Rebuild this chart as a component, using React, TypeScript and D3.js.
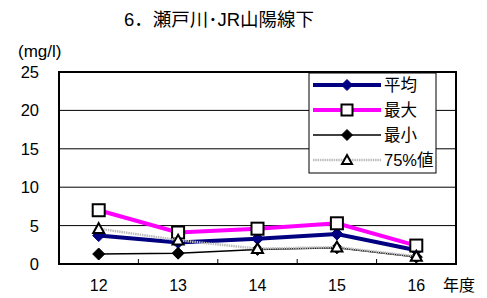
import React from 'react';
import * as d3 from 'd3';

const years = ['12', '13', '14', '15', '16'];
const avgValues = [3.7, 2.8, 3.3, 3.9, 1.8];
const maxValues = [7.0, 4.1, 4.6, 5.3, 2.4];
const minValues = [1.3, 1.4, 1.9, 2.1, 0.9];
const p75Values = [4.6, 3.1, 2.0, 2.2, 1.0];
const yTicks = [0, 5, 10, 15, 20, 25];
const legendLabels = ['平均', '最大', '最小', '75%値'];

const W = 487;
const H = 298;
const plot = { left: 59, right: 456, top: 72, bottom: 264 };
const font = 'Arial, "Liberation Sans", "Noto Sans CJK JP", sans-serif';

type Marker = 'diamond' | 'square' | 'triangle';

interface Series {
  name: string;
  values: number[];
  stroke: string;
  width: number;
  dash?: string;
  marker: Marker;
  markerFill: string;
  markerStroke: string;
  markerSize: number;
}

const series: Series[] = [
  { name: legendLabels[0], values: avgValues, stroke: '#000080', width: 4, marker: 'diamond', markerFill: '#000080', markerStroke: '#000080', markerSize: 12 },
  { name: legendLabels[1], values: maxValues, stroke: '#ff00ff', width: 4, marker: 'square', markerFill: '#ffffff', markerStroke: '#000000', markerSize: 12 },
  { name: legendLabels[2], values: minValues, stroke: '#000000', width: 1.5, marker: 'diamond', markerFill: '#000000', markerStroke: '#000000', markerSize: 12 },
  { name: legendLabels[3], values: p75Values, stroke: '#bdbdbd', width: 2.5, dash: '1.5 0.8', marker: 'triangle', markerFill: '#ffffff', markerStroke: '#000000', markerSize: 11 },
];

function markerShape(m: Marker, x: number, y: number, s: Series) {
  const h = s.markerSize / 2;
  if (m === 'square') {
    return <rect x={x - h} y={y - h} width={s.markerSize} height={s.markerSize} fill={s.markerFill} stroke={s.markerStroke} strokeWidth={2} />;
  }
  if (m === 'diamond') {
    return <path d={`M${x},${y - h}L${x + h},${y}L${x},${y + h}L${x - h},${y}Z`} fill={s.markerFill} stroke={s.markerStroke} strokeWidth={1} />;
  }
  return <path d={`M${x},${y - h}L${x + h},${y + h * 0.8}L${x - h},${y + h * 0.8}Z`} fill={s.markerFill} stroke={s.markerStroke} strokeWidth={2} />;
}

export default function App() {
  const x = d3.scaleBand<string>().domain(years).range([plot.left, plot.right]);
  const y = d3.scaleLinear().domain([0, 25]).range([plot.bottom, plot.top]);
  const cx = (d: string) => (x(d) as number) + x.bandwidth() / 2;

  const line = d3.line<number>()
    .x((_, i) => cx(years[i]))
    .y(d => y(d));

  const legend = { left: 309, top: 73, right: 436, bottom: 173 };
  const legendRows = [85, 110, 135, 160];

  return (
    <svg width={W} height={H} style={{ position: 'absolute', left: 0, top: 0, fontFamily: font }}>
      <rect width={W} height={H} fill="#ffffff" />
      <text x={219} y={26} textAnchor="middle" fontSize={18.5} fill="#000">6．瀬戸川･JR山陽線下</text>
      <text x={18} y={57} fontSize={17} fill="#000">(mg/l)</text>

      {yTicks.map(t => (
        <g key={t}>
          {t > 0 && t < 25 && (
            <line x1={plot.left} x2={plot.right} y1={y(t)} y2={y(t)} stroke="#000" strokeWidth={1} />
          )}
          <text x={39} y={y(t) + 6} textAnchor="end" fontSize={16.5} fill="#000">{t}</text>
        </g>
      ))}

      {years.slice(1).map(yr => (
        <line key={yr} x1={x(yr)} x2={x(yr)} y1={plot.bottom} y2={plot.bottom - 5} stroke="#000" strokeWidth={1} />
      ))}
      {years.map(yr => (
        <text key={yr} x={cx(yr)} y={291} textAnchor="middle" fontSize={16} fill="#000">{yr}</text>
      ))}
      <text x={443} y={291} fontSize={16} fill="#000">年度</text>

      {series.map(s => (
        <g key={s.name}>
          <path d={line(s.values) ?? ''} fill="none" stroke={s.stroke} strokeWidth={s.width} strokeDasharray={s.dash} />
          {s.values.map((v, i) => (
            <g key={i}>{markerShape(s.marker, cx(years[i]), y(v), s)}</g>
          ))}
        </g>
      ))}

      <rect x={plot.left} y={plot.top} width={plot.right - plot.left} height={plot.bottom - plot.top} fill="none" stroke="#000" strokeWidth={2} />

      <rect x={legend.left} y={legend.top} width={legend.right - legend.left} height={legend.bottom - legend.top} fill="#ffffff" stroke="#000" strokeWidth={1} />
      {series.map((s, i) => (
        <g key={s.name}>
          <line x1={313} x2={381} y1={legendRows[i]} y2={legendRows[i]} stroke={s.stroke} strokeWidth={s.width} strokeDasharray={s.dash} />
          {markerShape(s.marker, 347, legendRows[i], { ...s, markerSize: s.markerSize - 1 })}
          <text x={384} y={legendRows[i] + 6} fontSize={16.5} fill="#000">{s.name}</text>
        </g>
      ))}
    </svg>
  );
}
